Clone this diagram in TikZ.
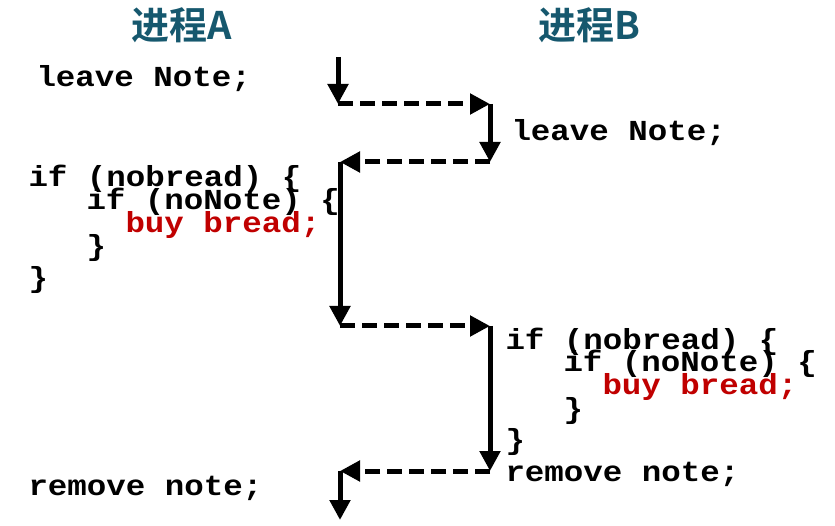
\documentclass[tikz,border=0pt]{standalone}
\usepackage{fontspec}
\setmonofont{Liberation Mono}[FakeStretch=1.12]
\newfontfamily\cjk{Noto Sans CJK SC}[BoldFont={Noto Sans CJK SC Bold}]
\usetikzlibrary{arrows.meta}
\definecolor{headteal}{RGB}{22,88,110}
\definecolor{buyred}{RGB}{192,0,0}

\begin{document}
\begin{tikzpicture}[
    x=1pt, y=-1pt,
    line width=5pt,
    every node/.style={inner sep=0pt, font=\ttfamily\bfseries\fontsize{29}{29}\selectfont},
    code/.style={anchor=base west, text height=15pt, text depth=3pt},
    buy/.style={code, text=buyred},
    head/.style={font=\cjk\bfseries\fontsize{38}{38}\selectfont, text=headteal},
    run/.style={-{Triangle[length=20pt,width=20pt]}},
    hop/.style={run, dash pattern=on 15pt off 7pt}
]
    \useasboundingbox (0,0) rectangle (835,526);
    % Headings
    \node[head] (headA) at (182,25) {进程A};
    \node[head] (headB) at (589,25) {进程B};
    % Process A
    \node[code] (leaveA) at (34,87) {leave Note;};
    \node[code] (ifA) at (26,187) {if (nobread) \{};
    \node[code] (noteA) at (84,210) {if (noNote) \{};
    \node[buy] (buyA) at (123,233) {buy bread;};
    \node[code] (innerA) at (84,256) {\}};
    \node[code] (outerA) at (26,288) {\}};
    \node[code] (removeA) at (26,495) {remove note;};
    % Process B
    \node[code] (leaveB) at (509,141) {leave Note;};
    \node[code] (ifB) at (503,349) {if (nobread) \{};
    \node[code] (noteB) at (561,372) {if (noNote) \{};
    \node[buy] (buyB) at (600,395) {buy bread;};
    \node[code] (innerB) at (561,418) {\}};
    \node[code] (outerB) at (503,449) {\}};
    \node[code] (removeB) at (503,481) {remove note;};
    % Turns of the scheduler
    \coordinate (start) at (338,57);
    \coordinate (a1) at (338,104);
    \coordinate (b1) at (490,104);
    \coordinate (b2) at (490,162);
    \coordinate (a2) at (340,162);
    \coordinate (a3) at (340,326);
    \coordinate (b3) at (490,326);
    \coordinate (b4) at (490,471);
    \coordinate (a4) at (340,471);
    \coordinate (stop) at (340,520);
    \draw[run] (start) -- (a1);
    \draw[hop] (a1) -- (b1);
    \draw[run] (b1) -- (b2);
    \draw[hop] (b2) -- (a2);
    \draw[run] (a2) -- (a3);
    \draw[hop] (a3) -- (b3);
    \draw[run] (b3) -- (b4);
    \draw[hop] (b4) -- (a4);
    \draw[run] (a4) -- (stop);
\end{tikzpicture}
\end{document}
